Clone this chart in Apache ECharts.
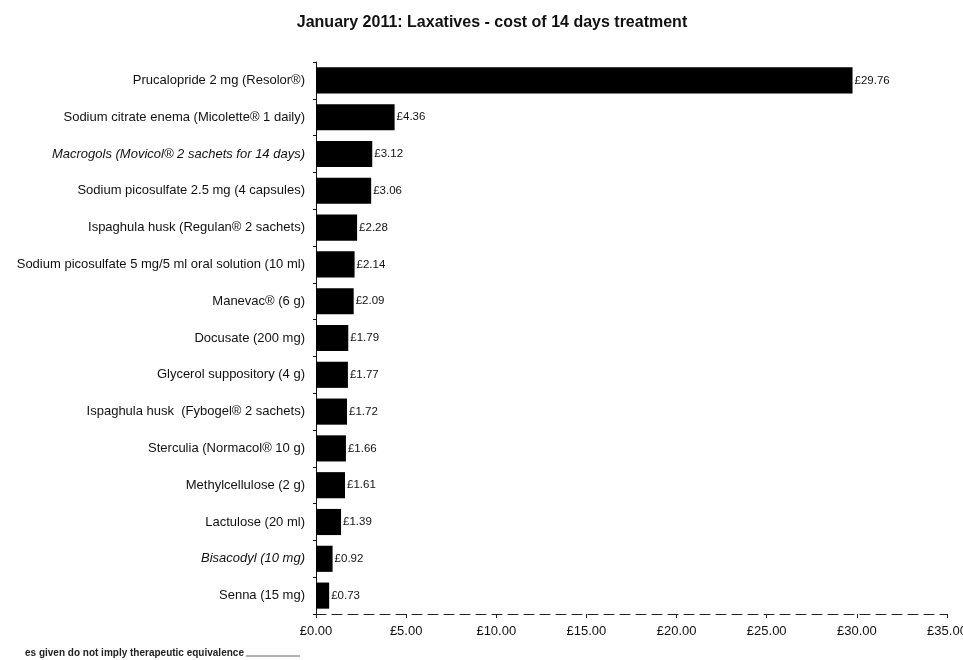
<!DOCTYPE html>
<html><head><meta charset="utf-8">
<script src="https://cdn.jsdelivr.net/npm/echarts@6/dist/echarts.min.js"></script>
<style>html,body{margin:0;padding:0;background:#fff}#c{width:963px;height:660px}</style>
</head><body><div id="c"></div>
<script>
const categories = [
  "Prucalopride 2 mg (Resolor®)",
  "Sodium citrate enema (Micolette® 1 daily)",
  "Macrogols (Movicol® 2 sachets for 14 days)",
  "Sodium picosulfate 2.5 mg (4 capsules)",
  "Ispaghula husk (Regulan® 2 sachets)",
  "Sodium picosulfate 5 mg/5 ml oral solution (10 ml)",
  "Manevac® (6 g)",
  "Docusate (200 mg)",
  "Glycerol suppository (4 g)",
  "Ispaghula husk  (Fybogel® 2 sachets)",
  "Sterculia (Normacol® 10 g)",
  "Methylcellulose (2 g)",
  "Lactulose (20 ml)",
  "Bisacodyl (10 mg)",
  "Senna (15 mg)"
];
const costs = [29.76, 4.36, 3.12, 3.06, 2.28, 2.14, 2.09, 1.79, 1.77, 1.72, 1.66, 1.61, 1.39, 0.92, 0.73];
const italicCategories = ["Macrogols (Movicol® 2 sachets for 14 days)", "Bisacodyl (10 mg)"];
const xTicks = [0, 5, 10, 15, 20, 25, 30, 35];

const font = "'Liberation Sans', Arial, sans-serif";
const chart = echarts.init(document.getElementById('c'));
chart.setOption({
  animation: false,
  title: {
    text: 'January 2011: Laxatives - cost of 14 days treatment',
    left: 487, top: 10, textAlign: 'center',
    textStyle: { fontFamily: font, fontSize: 16, fontWeight: 'bold', color: '#111' }
  },
  grid: { left: 316, right: 16, top: 62, bottom: 46, containLabel: false, outerBoundsMode: 'none' },
  xAxis: {
    type: 'value', min: xTicks[0], max: xTicks[xTicks.length - 1], interval: 5,
    axisLine: { show: true, lineStyle: { color: '#222', width: 1, type: [10, 6] } },
    axisTick: { show: true, length: 4, inside: false, lineStyle: { color: '#222' } },
    splitLine: { show: false },
    axisLabel: { margin: 11, fontFamily: font, fontSize: 13, color: '#111',
      formatter: v => '£' + v.toFixed(2) }
  },
  yAxis: {
    type: 'category', inverse: true,
    data: categories.map(c => italicCategories.includes(c)
      ? { value: c, textStyle: { fontStyle: 'italic' } } : c),
    axisLine: { show: true, lineStyle: { color: '#111', width: 1 } },
    axisTick: { show: true, length: 3, lineStyle: { color: '#111' } },
    axisLabel: { margin: 11, fontFamily: font, fontSize: 13, color: '#111' }
  },
  series: [{
    type: 'bar', data: costs, barWidth: '71%',
    itemStyle: { color: '#000' },
    label: { show: true, position: 'right', distance: 2, fontFamily: font, fontSize: 11.5,
      color: '#111', formatter: p => '£' + p.value.toFixed(2) }
  }],
  graphic: [
    { type: 'text', left: 25, top: 648,
      style: { text: 'es given do not imply therapeutic equivalence', font: 'bold 10px ' + font, fill: '#222' } },
    { type: 'line', shape: { x1: 246, y1: 656, x2: 300, y2: 656 }, style: { stroke: '#666', lineWidth: 1 } }
  ]
});
</script></body></html>
